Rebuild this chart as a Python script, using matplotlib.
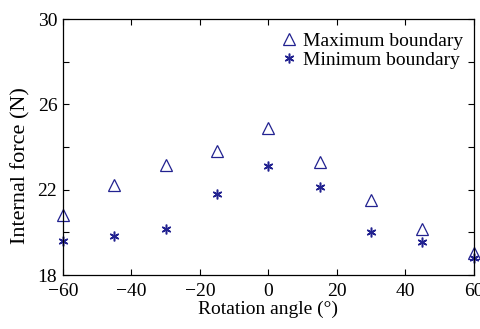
import numpy as np
import matplotlib.pyplot as plt

plt.rcParams['font.family'] = ['Liberation Serif', 'DejaVu Serif']

angles = [-60, -45, -30, -15, 0, 15, 30, 45, 60]
max_boundary = [20.8, 22.22, 23.16, 23.8, 24.9, 23.3, 21.5, 20.15, 19.03]
min_boundary = [19.6, 19.83, 20.15, 21.8, 23.1, 22.12, 20.03, 19.56, 18.78]

col = '#222290'

fig = plt.figure(figsize=(4.8, 3.29), dpi=100)
ax = fig.add_axes([0.131, 0.164, 0.856, 0.778])

ax.plot(angles, max_boundary, linestyle='none', marker='^', markersize=8,
        markerfacecolor='none', markeredgecolor=col, markeredgewidth=0.9,
        label='Maximum boundary', clip_on=False)
ax.plot(angles, min_boundary, linestyle='none', marker=(6, 2, 0), markersize=7,
        markeredgecolor=col, markeredgewidth=1.1, color=col,
        label='Minimum boundary', clip_on=False)

ax.set_xlim(-60, 60)
ax.set_ylim(18, 30)
ax.set_xticks([-60, -40, -20, 0, 20, 40, 60])
ax.set_yticks([18, 20, 22, 24, 26, 28, 30])
ax.set_yticklabels(['18', '', '22', '', '26', '', '30'])
ax.tick_params(direction='in', top=True, right=True, labelsize=14, length=4,
               width=0.8)
ax.tick_params(axis='x', pad=6)
ax.tick_params(axis='y', pad=4)
for s in ax.spines.values():
    s.set_linewidth(0.9)

ax.set_xlabel('Rotation angle (°)', fontsize=14, labelpad=0)
ax.set_ylabel('Internal force (N)', fontsize=16)
ax.yaxis.set_label_coords(-0.08, 0.426)

ax.legend(loc='upper right', frameon=False, fontsize=14, handletextpad=0.1,
          borderaxespad=0.3, labelspacing=0.05, handlelength=1.3,
          bbox_to_anchor=(1.008, 1.0))

fig.savefig('out.png', dpi=100)
